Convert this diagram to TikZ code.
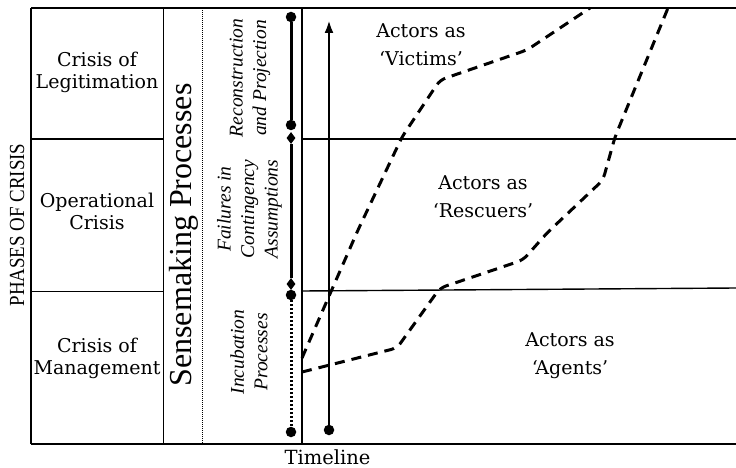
\documentclass[tikz,border=0pt]{standalone}
\usepackage{fontspec}
\setmainfont{Liberation Serif}
\newfontfamily\labelserif{DejaVu Serif}
\newfontfamily\narrowserif[FakeStretch=0.88]{Liberation Serif}
\usetikzlibrary{arrows.meta,shapes.geometric}

\tikzset{
  frame/.style={line width=1.4pt},
  guide/.style={line width=0.8pt, dash pattern=on 1pt off 1pt},
  celltext/.style={font={\labelserif\fontsize{19}{22}\selectfont}, align=center, inner sep=0pt},
  actortext/.style={font={\labelserif\fontsize{19}{28}\selectfont}, align=center, inner sep=0pt},
  proctext/.style={font={\itshape\fontsize{19.5}{23.5}\selectfont}, align=center, inner sep=0pt, rotate=90},
  dot/.style={circle, fill, inner sep=0pt, minimum size=10.5pt},
  diam/.style={diamond, fill, inner sep=0pt, minimum width=9pt, minimum height=12pt},
  track/.style={line width=3pt},
  dottrack/.style={line width=3pt, dash pattern=on 2pt off 2pt},
  boundary/.style={line width=3pt, dash pattern=on 10pt off 7pt, rounded corners=6pt},
}

\begin{document}
\begin{tikzpicture}[x=1pt, y=-1pt]
  \useasboundingbox (0,0) rectangle (736,468);

  % outer frame and column rules
  \draw[frame] (31,8) -- (736,8);
  \draw[frame] (31,444) -- (736,444);
  \draw[frame] (31,8) -- (31,444);
  \draw[frame] (163.5,8) -- (163.5,444);
  \draw[frame] (302,8) -- (302,444);
  \draw[guide] (202,8) -- (202,444);

  % phase rules
  \draw[frame] (31,139) -- (163.5,139);
  \draw[frame] (31,291.5) -- (163.5,291.5);
  \draw[frame] (302,139) -- (736,139);
  \draw[frame] (302,291) -- (736,288);

  % axis labels
  \node[font={\narrowserif\fontsize{21.5}{21.5}\selectfont}, rotate=90, inner sep=0pt] (phases) at (17,225) {PHASES OF CRISIS};
  \node[font={\labelserif\fontsize{19.5}{22}\selectfont}, inner sep=0pt] (timeline) at (327.5,457.5) {Timeline};

  % phases
  \node[celltext] (legit) at (97,72) {Crisis of\\Legitimation};
  \node[celltext] (oper) at (97,211) {Operational\\Crisis};
  \node[celltext] (mgmt) at (97,358.5) {Crisis of\\Management};

  % sensemaking
  \node[font={\fontsize{32}{32}\selectfont}, rotate=90, inner sep=0pt] (sense) at (184,235) {Sensemaking Processes};
  \node[proctext] (recon) at (250,78) {Reconstruction\\and Projection};
  \node[proctext] (fail) at (249.5,209) {Failures in\\Contingency\\Assumptions};
  \node[proctext] (incub) at (249,352) {Incubation\\Processes};

  % process tracks
  \node[dot] (r1) at (291,17) {};
  \node[dot] (r2) at (291,125) {};
  \node[diam] (f1) at (291,138) {};
  \node[diam] (f2) at (291,284) {};
  \node[dot] (i1) at (291,295) {};
  \node[dot] (i2) at (291,432) {};
  \draw[track] (r1) -- (r2);
  \draw[track] (f1) -- (f2);
  \draw[dottrack] (i1) -- (i2);

  % time arrow
  \node[dot] (t0) at (329,430) {};
  \coordinate (t1) at (329,20);
  \draw[line width=2.6pt, -{Latex[length=13pt,width=9pt]}] (t0) -- (t1);

  % actor boundaries
  \draw[boundary] (302,358) -- (326,303) -- (358,230) -- (402,137) -- (440,80) -- (527,50) -- (590,8);
  \draw[boundary] (302,372) -- (397,348) -- (440,288) -- (523,260) -- (547,233) -- (603,180) -- (615,137) -- (668,8);

  % actor labels
  \node[actortext] (victims) at (421,45) {Actors as\\‘Victims’};
  \node[actortext] (rescuers) at (483,197) {Actors as\\‘Rescuers’};
  \node[actortext] (agents) at (570,356) {Actors as\\‘Agents’};
\end{tikzpicture}
\end{document}
